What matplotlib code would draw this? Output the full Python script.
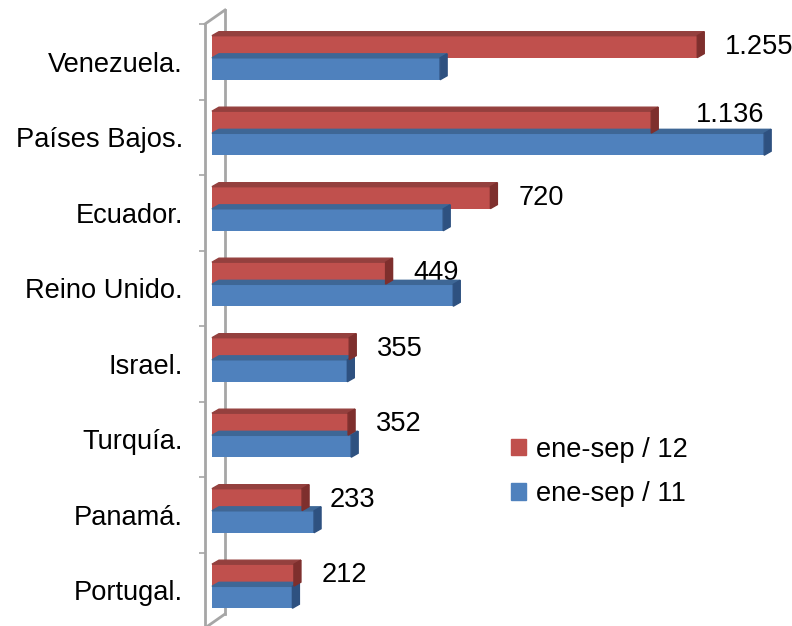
import matplotlib
matplotlib.use("Agg")
import matplotlib.pyplot as plt
from matplotlib.patches import Polygon, Patch
from matplotlib.transforms import IdentityTransform
import numpy as np

plt.rcParams['font.family'] = ['Liberation Sans', 'DejaVu Sans']

paises = ['Venezuela.', 'Países Bajos.', 'Ecuador.', 'Reino Unido.',
          'Israel.', 'Turquía.', 'Panamá.', 'Portugal.']
ene_sep_12 = [1255, 1136, 720, 449, 355, 352, 233, 212]
ene_sep_11 = [590, 1428, 598, 624, 350, 360, 264, 208]
etiquetas_12 = ['1.255', '1.136', '720', '449', '355', '352', '233', '212']

rojo, rojo_top, rojo_lado = '#C0504D', '#94403E', '#7E2F2D'
azul, azul_top, azul_lado = '#4F81BD', '#3E6796', '#2E5180'
gris = '#A6A6A6'
fs = 19.6

fig = plt.figure(figsize=(7.92, 6.26), dpi=100)
ax = fig.add_axes([205/792, -2/626, 587/792, 604/626])
ax.set_xlim(-18, 1500)
ax.set_ylim(7.5, -0.5)

y = np.arange(len(paises))
h = 0.29
b11 = ax.barh(y + 0.093, ene_sep_11, height=h, color=azul, zorder=2)
b12 = ax.barh(y - 0.2, ene_sep_12, height=h, color=rojo, zorder=4)

# caras 3D (arriba y lado) en pixeles
dx, dy = 7, 4
fig.canvas.draw()
for barras, ctop, clado, z in [(b11, azul_top, azul_lado, 1.5), (b12, rojo_top, rojo_lado, 3.5)]:
    for r in barras:
        (x0, y0), (x1, y1) = ax.transData.transform(
            [(r.get_x(), r.get_y() + r.get_height()), (r.get_x() + r.get_width(), r.get_y())])
        ylo, yhi = min(y0, y1), max(y0, y1)
        top = Polygon([(x0, yhi), (x1, yhi), (x1 + dx, yhi + dy), (x0 + dx, yhi + dy)],
                      closed=True, color=ctop, transform=IdentityTransform(), zorder=z)
        lado = Polygon([(x1, ylo), (x1, yhi), (x1 + dx, yhi + dy), (x1 + dx, ylo + dy)],
                       closed=True, color=clado, transform=IdentityTransform(), zorder=z)
        fig.add_artist(top)
        fig.add_artist(lado)

# etiquetas de la serie 2012
for i, (v, t) in enumerate(zip(ene_sep_12, etiquetas_12)):
    ox, oy = 20, 0
    if i == 1:
        ox, oy = 32, 5
    ax.annotate(t, (v, i - 0.2), xytext=(ox, oy), textcoords='offset points',
                va='center', ha='left', fontsize=fs, zorder=6)

# ejes
for s in ['top', 'right', 'bottom']:
    ax.spines[s].set_visible(False)
ax.spines['left'].set_color(gris)
ax.spines['left'].set_linewidth(2)
ax.set_xticks([])
ax.set_yticks(np.arange(-0.5, 8.0, 1.0), minor=True)
ax.set_yticks(y)
ax.set_yticklabels(paises, fontsize=fs)
ax.tick_params(axis='y', which='major', length=0, pad=16)
ax.tick_params(axis='y', which='minor', length=4, width=1.2, color=gris)

# pared del fondo
wx, wy = 20/587, 14/604
ax.plot([wx, wx], [wy, 1 + wy], color=gris, lw=2, transform=ax.transAxes, clip_on=False, zorder=0)
ax.plot([0, wx], [1, 1 + wy], color=gris, lw=2, transform=ax.transAxes, clip_on=False, zorder=0)
ax.plot([0, wx], [0, wy], color=gris, lw=2, transform=ax.transAxes, clip_on=False, zorder=0)

fig.legend(handles=[Patch(color=rojo, label='ene-sep / 12'), Patch(color=azul, label='ene-sep / 11')],
           loc='center left', bbox_to_anchor=(511/792, 1 - 472/626), frameon=False,
           fontsize=fs, handlelength=0.55, handleheight=0.55, handletextpad=0.35,
           labelspacing=0.68, borderpad=0, borderaxespad=0)

fig.savefig('out.png', dpi=100)
